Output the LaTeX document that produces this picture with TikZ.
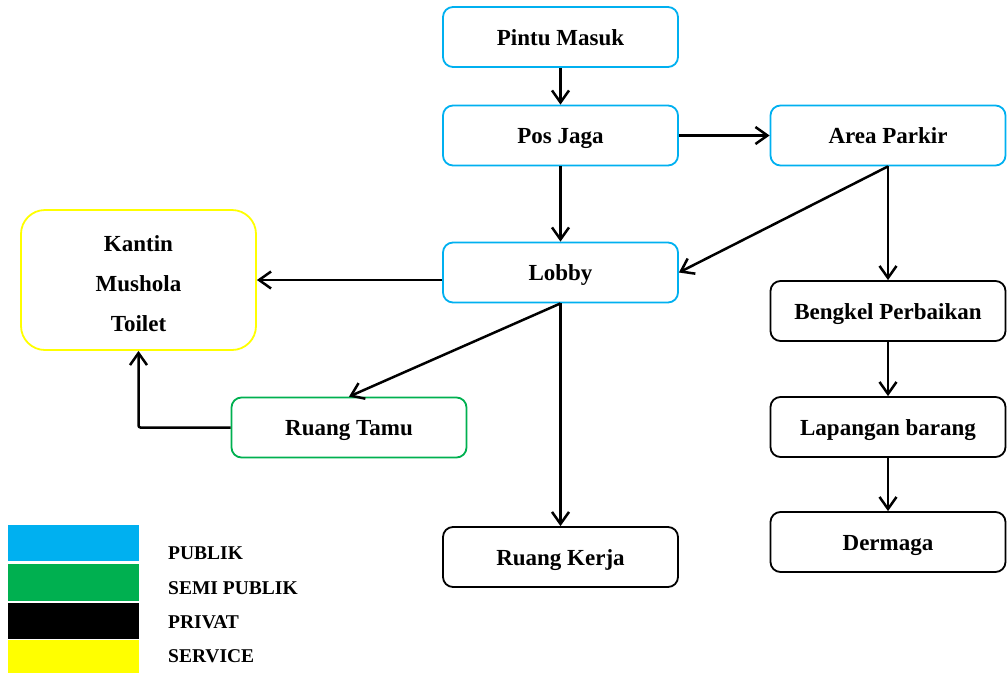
\documentclass[tikz,border=0pt]{standalone}
\usepackage{fontspec}
\setmainfont{Liberation Serif}
\usetikzlibrary{arrows.meta}
\definecolor{publik}{HTML}{00B0F0}
\definecolor{semipublik}{HTML}{00B050}
\definecolor{service}{HTML}{FFFF00}
\tikzset{
  room/.style={draw, line width=1.8pt, rounded corners=10pt, fill=white,
    minimum width=235pt, minimum height=60pt, inner sep=0pt,
    text height=17pt, text depth=1pt,
    font=\fontsize{23}{27}\selectfont\bfseries},
  pub/.style={room, draw=publik},
  semi/.style={room, draw=semipublik},
  priv/.style={room, draw=black},
  arr/.style={line width=2.5pt, -{Straight Barb[length=12pt,width=17pt,line width=2.5pt]}},
  swatch/.style={minimum width=131pt, inner sep=0pt, outer sep=0pt},
  legtext/.style={anchor=west, inner sep=0pt, font=\fontsize{19.5}{22}\selectfont\bfseries}
}
\begin{document}
\begin{tikzpicture}[x=1pt,y=-1pt]
\useasboundingbox (0,0) rectangle (1007,673);

% rooms
\node[pub]  (pintu)   at (560.5,37)  {Pintu Masuk};
\node[pub]  (pos)     at (560.5,135.5) {Pos Jaga};
\node[pub]  (parkir)  at (888,135.5) {Area Parkir};
\node[pub]  (lobby)   at (560.5,272.5) {Lobby};
\node[room, draw=service, minimum height=140pt, rounded corners=24pt]
            (kantin)  at (138.5,280) {};
\node[align=center, inner sep=0pt, font=\fontsize{23}{40}\selectfont\bfseries]
            (fasilitas) at (138.5,284) {Kantin\\Mushola\\Toilet};
\node[semi] (tamu)    at (349,427.5) {Ruang Tamu};
\node[priv] (kerja)   at (560.5,557) {Ruang Kerja};
\node[priv] (bengkel) at (888,311)   {Bengkel Perbaikan};
\node[priv] (lapangan) at (888,427)  {Lapangan barang};
\node[priv] (dermaga) at (888,542)   {Dermaga};

% circulation
\draw[arr] (pintu.south) -- (pos.north);
\draw[arr] (pos.east) -- (parkir.west);
\draw[arr] (pos.south) -- (lobby.north);
\draw[arr] (parkir.south) -- (lobby.east);
\draw[arr] (parkir.south) -- (bengkel.north);
\draw[arr] (lobby.west |- kantin.east) -- (kantin.east);
\draw[arr] (lobby.south) -- (tamu.north);
\draw[arr] (lobby.south) -- (kerja.north);
\draw[arr, rounded corners=2pt] (tamu.west) -| (kantin.south);
\draw[arr] (bengkel.south) -- (lapangan.north);
\draw[arr] (lapangan.south) -- (dermaga.north);

% legend
\node[swatch, fill=publik, minimum height=36pt]     (kpub)  at (73.5,543) {};
\node[swatch, fill=semipublik, minimum height=37pt] (ksemi) at (73.5,582.5) {};
\node[swatch, fill=black, minimum height=36pt]      (kpriv) at (73.5,621) {};
\node[swatch, fill=service, minimum height=33pt]    (kserv) at (73.5,656.5) {};
\node[legtext] (tpub)  at (168,553) {PUBLIK};
\node[legtext] (tsemi) at (168,588) {SEMI PUBLIK};
\node[legtext] (tpriv) at (168,622) {PRIVAT};
\node[legtext] (tserv) at (168,656) {SERVICE};
\end{tikzpicture}
\end{document}
